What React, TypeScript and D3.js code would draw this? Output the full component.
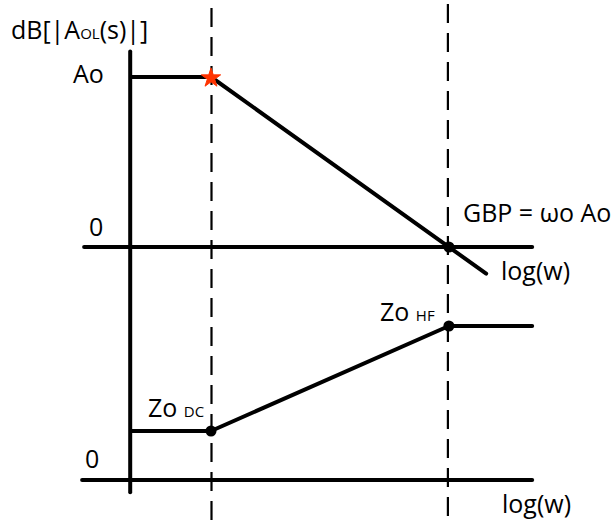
import React from "react";
import * as d3 from "d3";

// log(w) positions (decades) of breakpoints
const polesLogW = [1, 4]; // dominant pole, GBP crossing
const gainLogW = [0, 1, 4.47];
const gainDb = [60, 60, -9.4];
const zoLogW = [0, 1, 4, 5.05];
const zoDb = [28, 28, 88, 88];
const zeroLineLogW = [-0.6, 5.05];
const axisTopDb = 69;
const axisBottomZo = -7;

const W = 613;
const H = 520;
const FONT = "'Open Sans', 'Noto Sans', sans-serif";

export default function App() {
  const x = d3.scaleLinear().domain([0, 1]).range([131.7, 211]);
  const yG = d3.scaleLinear().domain([0, 60]).range([247, 77]);
  const yZ = d3.scaleLinear().domain([0, 28]).range([480, 431]);

  const gainLine = d3
    .line<number>()
    .x((_, i) => x(gainLogW[i]))
    .y((d) => yG(d));
  const zoLine = d3
    .line<number>()
    .x((_, i) => x(zoLogW[i]))
    .y((d) => yZ(d));

  const star = d3.symbol().type(d3.symbolStar).size(115)();
  const lw = 4;

  return (
    <svg
      width={W}
      height={H}
      style={{ position: "absolute", left: 0, top: 0, background: "#fff" }}
      fontFamily={FONT}
    >
      <rect width={W} height={H} fill="#fff" />
      {/* dashed verticals */}
      {polesLogW.map((p, i) => (
        <line
          key={"d" + i}
          x1={x(p) + (i === 0 ? 0.5 : -1)}
          x2={x(p) + (i === 0 ? 0.5 : -1)}
          y1={0}
          y2={H}
          stroke="#000"
          strokeWidth={2.2}
          strokeDasharray="19 10"
          strokeDashoffset={i === 0 ? -8 : -4}
        />
      ))}
      {/* vertical axis */}
      <line
        x1={x(0) - 1.5}
        x2={x(0) - 1.5}
        y1={yG(axisTopDb)}
        y2={yZ(axisBottomZo)}
        stroke="#000"
        strokeWidth={lw}
        strokeLinecap="round"
      />
      {/* zero lines */}
      <line
        x1={x(zeroLineLogW[0])}
        x2={x(zeroLineLogW[1])}
        y1={yG(0)}
        y2={yG(0)}
        stroke="#000"
        strokeWidth={lw}
        strokeLinecap="round"
      />
      <line
        x1={x(zeroLineLogW[0]) - 2}
        x2={x(zeroLineLogW[1])}
        y1={yZ(0)}
        y2={yZ(0)}
        stroke="#000"
        strokeWidth={lw}
        strokeLinecap="round"
      />
      {/* gain curve */}
      <path
        d={gainLine(gainDb) || ""}
        fill="none"
        stroke="#000"
        strokeWidth={lw}
        strokeLinecap="round"
        strokeLinejoin="round"
      />
      {/* output impedance curve */}
      <path
        d={zoLine(zoDb) || ""}
        fill="none"
        stroke="#000"
        strokeWidth={lw}
        strokeLinecap="round"
        strokeLinejoin="round"
      />
      {/* markers */}
      <path
        d={star || ""}
        transform={`translate(${x(polesLogW[0])},${yG(60) + 1})`}
        fill="#ff3300"
        stroke="#ff3300"
        strokeWidth={1}
        strokeLinejoin="round"
      />
      <circle cx={x(polesLogW[1])} cy={yG(0)} r={5.5} fill="#000" />
      <circle cx={x(polesLogW[0])} cy={yZ(zoDb[1])} r={5.5} fill="#000" />
      <circle cx={x(polesLogW[1])} cy={yZ(zoDb[2])} r={5.5} fill="#000" />

      {/* labels */}
      <g fontSize={25} fill="#000">
        <text x={11} y={39}>
          dB[|A<tspan fontSize={15}>OL</tspan>(s)|]
        </text>
        <text x={73} y={83}>Ao</text>
        <text x={89} y={236}>0</text>
        <text x={463} y={222}>GBP = ωo Ao</text>
        <text x={501} y={280}>log(w)</text>
        <text x={380} y={321}>
          Zo <tspan fontSize={15}>HF</tspan>
        </text>
        <text x={148} y={417}>
          Zo <tspan fontSize={15}>DC</tspan>
        </text>
        <text x={85} y={468}>0</text>
        <text x={502} y={513}>log(w)</text>
      </g>
    </svg>
  );
}
